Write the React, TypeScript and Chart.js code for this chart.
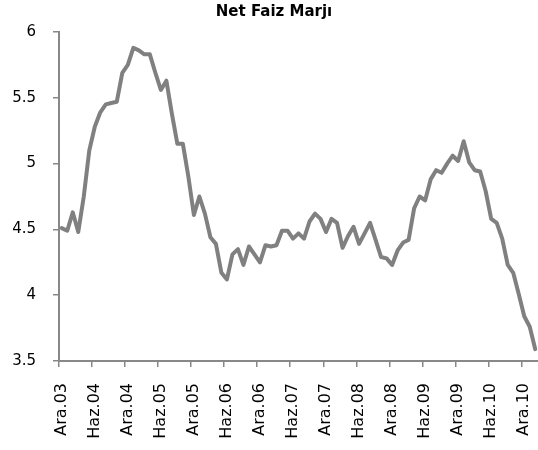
import { useEffect, useRef } from 'react';
import { Chart, registerables } from 'chart.js';

Chart.register(...registerables);

const TITLE = 'Net Faiz Marjı';

const MONTHS = ['Oca', 'Şub', 'Mar', 'Nis', 'May', 'Haz', 'Tem', 'Ağu', 'Eyl', 'Eki', 'Kas', 'Ara'];

// Monthly categories: Ara.03 ... Şub.11
const categories: string[] = ['Ara.03'];
for (let yr = 4; yr <= 11; yr++) {
  for (const m of MONTHS) {
    if (categories.length < 87) categories.push(`${m}.${String(yr).padStart(2, '0')}`);
  }
}

const netFaizMarji = [
  4.51, 4.49, 4.63, 4.48, 4.75, 5.10, 5.28, 5.39, 5.45, 5.46, 5.47, 5.69,
  5.75, 5.88, 5.86, 5.83, 5.83, 5.69, 5.56, 5.63, 5.38, 5.15, 5.15, 4.90,
  4.61, 4.75, 4.62, 4.44, 4.39, 4.17, 4.12, 4.31, 4.35, 4.23, 4.37, 4.31,
  4.25, 4.38, 4.37, 4.38, 4.49, 4.49, 4.43, 4.47, 4.43, 4.56, 4.62, 4.58,
  4.48, 4.58, 4.55, 4.36, 4.45, 4.52, 4.39, 4.47, 4.55, 4.42, 4.29, 4.28,
  4.23, 4.34, 4.40, 4.42, 4.66, 4.75, 4.72, 4.88, 4.95, 4.93, 5.00, 5.06,
  5.02, 5.17, 5.01, 4.95, 4.94, 4.79, 4.58, 4.55, 4.43, 4.23, 4.17, 4.01,
  3.84, 3.76, 3.59,
];

const yTicks = [3.5, 4, 4.5, 5, 5.5, 6];
const LABEL_EVERY = 6;

export default function App() {
  const ref = useRef<HTMLCanvasElement | null>(null);

  useEffect(() => {
    if (!ref.current) return;
    const axisColor = '#888888';
    const titlePlugin = {
      id: 'customTitle',
      afterDraw(chart: any) {
        const ctx = chart.ctx;
        ctx.save();
        ctx.fillStyle = '#000';
        ctx.font = 'bold 15px "DejaVu Sans"';
        ctx.textAlign = 'center';
        ctx.textBaseline = 'middle';
        ctx.fillText(TITLE, 274, 12);
        ctx.restore();
      },
    };
    const chart = new Chart(ref.current, {
      type: 'line',
      data: {
        labels: categories,
        datasets: [
          {
            label: TITLE,
            data: netFaizMarji,
            borderColor: '#808080',
            borderWidth: 4,
            pointRadius: 0,
            tension: 0,
            fill: false,
            borderJoinStyle: 'round',
            borderCapStyle: 'round',
          },
        ],
      },
      options: {
        responsive: false,
        animation: false,
        devicePixelRatio: 1,
        layout: { padding: { top: 32, left: 0, right: 0, bottom: 0 } },
        plugins: {
          legend: { display: false },
          tooltip: { enabled: false },
          title: { display: false },
        },
        scales: {
          x: {
            type: 'category',
            offset: true,
            border: { color: axisColor, width: 2 },
            grid: {
              offset: true,
              drawOnChartArea: false,
              tickLength: 6,
              lineWidth: 1.5,
              color: (c: any) => (c.index % LABEL_EVERY === 0 ? axisColor : 'rgba(0,0,0,0)'),
            },
            ticks: {
              autoSkip: false,
              maxRotation: 90,
              minRotation: 90,
              padding: 16,
              color: '#000',
              font: { family: 'DejaVu Sans', size: 16 },
              callback: (_v: any, i: number) => (i % LABEL_EVERY === 0 ? categories[i] : ''),
            },
            afterFit: (s: any) => {
              s.height = 89;
              s.paddingLeft = 0;
              s.paddingRight = 0;
            },
          },
          y: {
            min: yTicks[0],
            max: yTicks[yTicks.length - 1],
            border: { color: axisColor, width: 2 },
            grid: { drawOnChartArea: false, tickLength: 6, lineWidth: 1.5, color: axisColor },
            ticks: {
              stepSize: 0.5,
              padding: 17,
              color: '#000',
              font: { family: 'DejaVu Sans', size: 15 },
              callback: (v: any) => String(v),
            },
            afterFit: (s: any) => {
              s.width = 59;
              s.paddingTop = 0;
              s.paddingBottom = 0;
            },
          },
        },
      },
      plugins: [titlePlugin],
    } as any);
    return () => chart.destroy();
  }, []);

  return (
    <div style={{ position: 'fixed', left: 0, top: 0, width: 538, height: 450, background: '#fff' }}>
      <canvas ref={ref} width={538} height={450} style={{ width: 538, height: 450, display: 'block' }} />
    </div>
  );
}
